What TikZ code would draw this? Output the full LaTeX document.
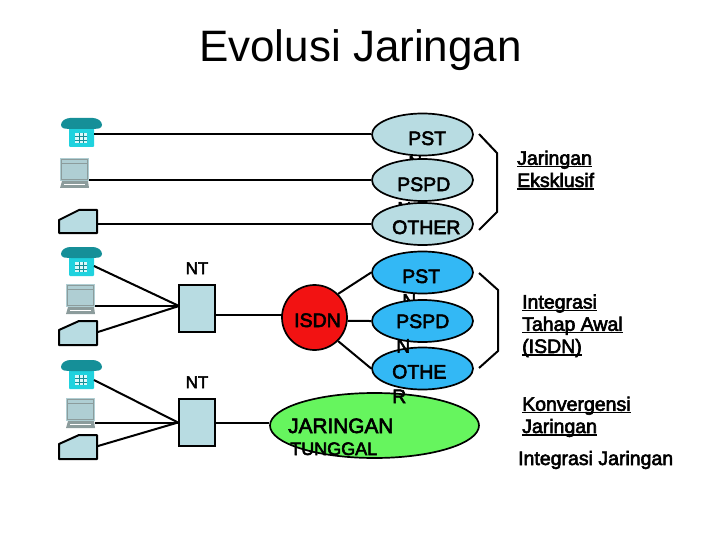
\documentclass[tikz,border=0pt]{standalone}
\usepackage{fontspec}
\setmainfont{Liberation Sans}
\newfontfamily\boldish[FakeBold=3]{Liberation Sans}
\usetikzlibrary{shapes.geometric}
\definecolor{paleblue}{HTML}{B8DCE2}
\definecolor{skyblue}{HTML}{33B8F5}
\definecolor{limeg}{HTML}{66F55E}
\definecolor{redisdn}{HTML}{F21212}
\definecolor{phonedark}{HTML}{158F98}
\definecolor{phonebody}{HTML}{1FD2DE}
\definecolor{pcgray}{HTML}{8C9C9C}
\newcommand{\ul}[1]{\setbox0=\hbox{#1}\rlap{\rule[-2.6pt]{\wd0}{1.5pt}}\box0}
\tikzset{
  wire/.style={line width=2pt,black},
  oval/.style={ellipse,draw=black,line width=1.7pt,minimum width=101pt,minimum height=42pt,inner sep=0pt},
  palefill/.style={fill=paleblue},
  skyfill/.style={fill=skyblue},
  lab/.style={anchor=base west,inner sep=0pt,align=left,font=\boldish\fontsize{19.5}{24.5}\selectfont},
  ntbox/.style={rectangle,draw=black,line width=2pt,fill=paleblue,minimum width=36pt,minimum height=47pt,inner sep=0pt},
  mynote/.style={anchor=base west,inner sep=0pt,align=left,font=\boldish\fontsize{19.5}{22.2}\selectfont},
  docshape/.style={draw=black,line width=2pt,fill=paleblue,line join=round}
}
\newcommand{\phoneicon}[1]{%
  \begin{scope}[yshift=-#1pt]
    \fill[phonebody,rounded corners=1pt] (69,128) rectangle (94,147);
    \fill[phonedark,rounded corners=3pt] (61,122) -- (67,118) -- (96,118) -- (102,122) -- (102,128) -- (95,129) -- (68,129) -- (61,128) -- cycle;
    \fill[white!85!phonebody] (75,133) rectangle (87,143);
    \draw[phonedark,line width=.5pt] (75,136.5)--(87,136.5) (75,140)--(87,140) (79,133)--(79,143) (83,133)--(83,143);
  \end{scope}}
\newcommand{\pcicon}[2]{%
  \begin{scope}[xshift=#1pt,yshift=-#2pt]
    \fill[paleblue!85!gray] (60,158) rectangle (89,181);
    \draw[pcgray,line width=.6pt] (61.5,159.5) rectangle (87,179);
    \draw[pcgray,line width=.5pt] (61.5,163) -- (87,163);
    \fill[pcgray] (60,188) -- (62,181) -- (88,181) -- (89,188) -- cycle;
    \draw[white,line width=.6pt] (64,184.5) -- (85,184.5);
  \end{scope}}
\begin{document}
\begin{tikzpicture}[x=1pt,y=-1pt]
\useasboundingbox (0,0) rectangle (720,540);
\node[anchor=base,inner sep=0pt,font=\fontsize{44}{44}\selectfont] (title) at (360.5,62) {Evolusi Jaringan};

% terminal icons
\phoneicon{0}\phoneicon{129}\phoneicon{242}
\pcicon{0}{0}\pcicon{6}{126}\pcicon{6}{240}
\draw[docshape] (59,220)--(79,210)--(97,210)--(97,233)--(59,233)--cycle;
\draw[docshape] (59,330)--(79,321)--(97,321)--(97,345)--(59,345)--cycle;
\draw[docshape] (59,444)--(79,435)--(97,435)--(97,459)--(59,459)--cycle;
\coordinate (ph1) at (94,134.5);
\coordinate (pc1) at (89,180);
\coordinate (dc1) at (97,224);
\coordinate (ph2) at (94,266);
\coordinate (pc2) at (95,306);
\coordinate (dc2) at (98,332);
\coordinate (ph3) at (94,380);
\coordinate (pc3) at (95,422.5);
\coordinate (dc3) at (98,446);

% top group
\node[oval,palefill] (pst1) at (422.5,134.5) {};
\node[lab] (pst1t) at (408,169.5) {PST\\N};
\node[oval,palefill] (pspd1) at (422.5,180) {};
\node[lab] (pspd1t) at (397,215.5) {PSPD\\N};
\node[oval,palefill] (oth1) at (422.5,224) {};
\node[lab] (oth1t) at (392,234) {OTHER};

% green network
\node[ellipse,draw=black,line width=1.7pt,fill=limeg,minimum width=209pt,minimum height=65pt,inner sep=0pt] (tung) at (374.5,425.5) {};
\node[lab,font=\boldish\fontsize{20.8}{22}\selectfont] (tungt) at (288,433) {JARINGAN};
\node[lab,font=\boldish\fontsize{18}{22}\selectfont] (tungb) at (290,455) {TUNGGAL};

% blue group
\node[oval,skyfill] (pst2) at (422.5,272.5) {};
\node[lab] (pst2t) at (402,307.5) {PST\\N};
\node[oval,skyfill] (oth2) at (422.5,368.5) {};
\node[oval,skyfill] (pspd2) at (422.5,321) {};
\node[lab] (pspd2t) at (396,352.5) {PSPD\\N};
\node[lab] (oth2t) at (392,403) {OTHE\\R};

% ISDN and NT
\node[circle,draw=black,line width=1.7pt,fill=redisdn,minimum size=65pt,inner sep=0pt] (isdn) at (314.5,317.5) {};
\node[lab,anchor=base] (isdnt) at (317.5,327) {ISDN};
\node[ntbox] (nt1) at (197,308.5) {};
\node[ntbox] (nt2) at (197,422.5) {};
\node[lab,anchor=base,font=\boldish\fontsize{17}{20}\selectfont] (nt1t) at (197,274) {NT};
\node[lab,anchor=base,font=\boldish\fontsize{17}{20}\selectfont] (nt2t) at (197,388) {NT};
\coordinate (nt1in) at (179,306);
\coordinate (nt1out) at (215,315);
\coordinate (isdnin) at (282.1,315);

% connectors
\draw[wire] (ph1) -- (pst1.west);
\draw[wire] (pc1) -- (pspd1.west);
\draw[wire] (dc1) -- (oth1.west);
\draw[wire] (ph2) -- (nt1in);
\draw[wire] (pc2) -- (nt1in);
\draw[wire] (dc2) -- (nt1in);
\draw[wire] (ph3) -- (nt2.west);
\draw[wire] (pc3) -- (nt2.west);
\draw[wire] (dc3) -- (nt2.west);
\draw[wire] (nt1out) -- (isdnin);
\draw[wire] (nt2.east) -- (nt2.east -| tung.west);
\draw[wire] (isdn.45) -- (pst2.west);
\draw[wire] (isdn.-6) -- (pspd2.west);
\draw[wire] (isdn.-45) -- (oth2.west);

% brackets
\coordinate (b1a) at (479,134);
\coordinate (b1b) at (497,153);
\coordinate (b1c) at (497,212);
\coordinate (b1d) at (479,230);
\draw[wire] (b1a) -- (b1b) -- (b1c) -- (b1d);
\coordinate (b2a) at (479,273);
\coordinate (b2b) at (498,290);
\coordinate (b2c) at (498,351);
\coordinate (b2d) at (479,368);
\draw[wire] (b2a) -- (b2b) -- (b2c) -- (b2d);

% notes
\node[mynote] (n1) at (517,187) {\ul{Jaringan}\\\ul{Eksklusif}};
\node[mynote] (n2) at (522,353) {\ul{Integrasi}\\\ul{Tahap Awal}\\\ul{(ISDN)}};
\node[mynote] (n3) at (522,433) {\ul{Konvergensi}\\\ul{Jaringan}};
\node[mynote] (n4) at (518,465) {Integrasi Jaringan};
\end{tikzpicture}
\end{document}
